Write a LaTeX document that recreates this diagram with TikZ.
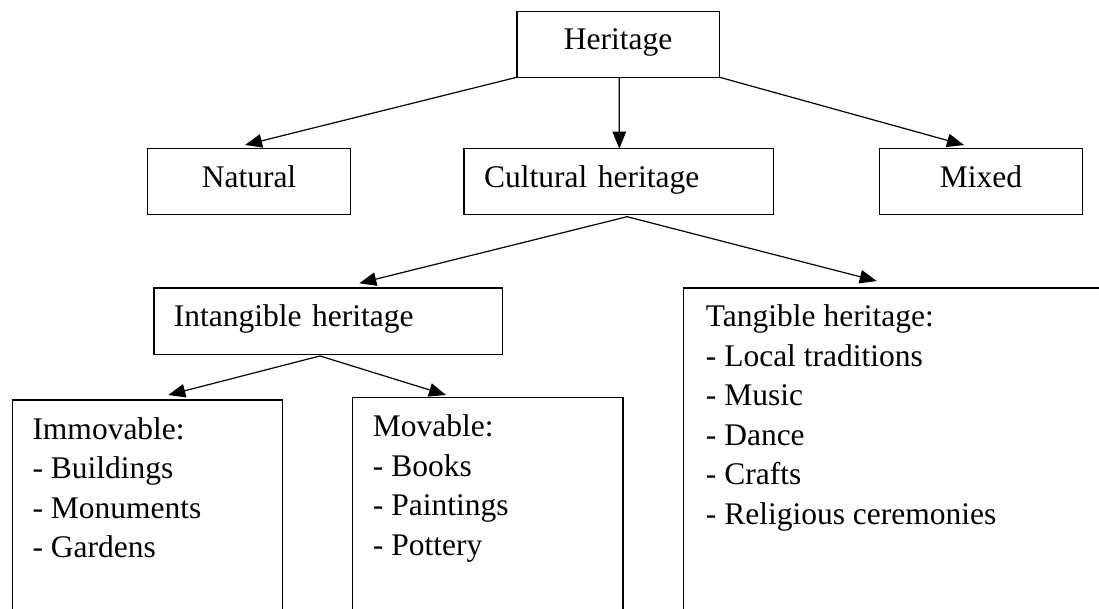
\documentclass[tikz,border=0pt]{standalone}
\usepackage{fontspec}
\setmainfont{Liberation Serif}
\usetikzlibrary{arrows.meta}
\begin{document}
\begin{tikzpicture}[x=1pt,y=-1pt,
  txt/.style={font=\fontsize{31.5}{39.5}\selectfont},
  box/.style={txt, draw=black, line width=1.3pt, outer sep=0pt, inner ysep=0pt, inner xsep=20pt,
    minimum height=66pt, text height=20pt, text depth=9pt},
  tallbox/.style={draw=black, line width=1.3pt, outer sep=0pt, inner sep=0pt, anchor=north west},
  listtext/.style={txt, inner sep=0pt, anchor=base west},
  link/.style={line width=1.2pt, -{Triangle[length=17pt,width=13.5pt]}}]
\useasboundingbox (0,0) rectangle (1099,608);
\fill[white] (0,0) rectangle (1099,608);
\clip (0,0) rectangle (1099,608);

% top level
\node[box, minimum width=202.3pt, text width=162.3pt, align=center] (heritage) at (618.2,44.2) {Heritage};

% second level
\node[box, minimum width=203.4pt, text width=163.4pt, align=center] (natural) at (249,181.7) {Natural};
\node[box, minimum width=309.3pt, text width=269.3pt, align=left] (cultural) at (618.7,181.7) {Cultural heritage};
\node[box, minimum width=203.4pt, text width=163.4pt, align=center] (mixed) at (981,181.7) {Mixed};

% third level
\node[box, minimum width=348.7pt, text width=308.7pt, align=left, minimum height=66.5pt] (intangible) at (328.3,321.2) {Intangible heritage};
\node[tallbox, minimum width=480pt, minimum height=400pt] (tangible) at (683.3,288) {};
\node[listtext] (tangibletext) at (705.7,326.7) {\begin{tabular}[t]{@{}l@{}}Tangible heritage:\\- Local traditions\\- Music\\- Dance\\- Crafts\\- Religious ceremonies\end{tabular}};

% fourth level
\node[tallbox, minimum width=270.4pt, minimum height=300pt] (immovable) at (12.3,400) {};
\node[listtext] (immovabletext) at (32.3,439) {\begin{tabular}[t]{@{}l@{}}Immovable:\\- Buildings\\- Monuments\\- Gardens\end{tabular}};
\node[tallbox, minimum width=270.3pt, minimum height=300pt] (movable) at (352.7,397.3) {};
\node[listtext] (movabletext) at (372.7,436.7) {\begin{tabular}[t]{@{}l@{}}Movable:\\- Books\\- Paintings\\- Pottery\end{tabular}};

% connectors
\draw[link] (heritage.south west) -- ([xshift=-4pt,yshift=3.7pt]natural.north);
\draw[link] ([xshift=1pt]heritage.south) -- ([xshift=0.6pt]cultural.north);
\draw[link] (heritage.south east) -- ([xshift=-17pt,yshift=3.7pt]mixed.north);
\draw[link] ([xshift=8.4pt,yshift=-2pt]cultural.south) -- ([xshift=31pt,yshift=4.7pt]intangible.north);
\draw[link] ([xshift=8.4pt,yshift=-2pt]cultural.south) -- ([xshift=193.4pt,yshift=7pt]tangible.north west);
\draw[link] ([xshift=-8.3pt,yshift=-1.5pt]intangible.south) -- ([xshift=20.8pt,yshift=5pt]immovable.north);
\draw[link] ([xshift=-8.3pt,yshift=-1.5pt]intangible.south) -- ([xshift=93.3pt,yshift=2.3pt]movable.north west);
\end{tikzpicture}
\end{document}
